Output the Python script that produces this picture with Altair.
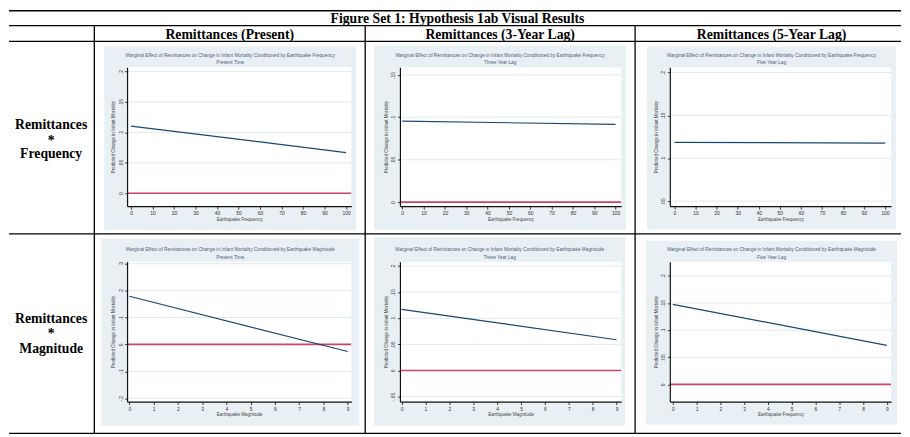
import altair as alt
import pandas as pd

# ------------------------------------------------------------------ data
FIG_TITLE = "Figure Set 1: Hypothesis 1ab Visual Results"
COL_HEADERS = ["Remittances (Present)", "Remittances (3-Year Lag)", "Remittances (5-Year Lag)"]
ROW_LABELS = [["Remittances", "*", "Frequency"], ["Remittances", "*", "Magnitude"]]

TITLE_FREQ = "Marginal Effect of Remittances on Change in Infant Mortality Conditioned by Earthquake Frequency"
TITLE_MAG = "Marginal Effect of Remittances on Change in Infant Mortality Conditioned by Earthquake Magnitude"
PANEL_TITLES = [TITLE_FREQ, TITLE_FREQ, TITLE_FREQ, TITLE_MAG, TITLE_MAG, TITLE_MAG]
PANEL_SUBTITLES = ["Present Time", "Three Year Lag", "Five Year Lag",
                   "Present Time", "Three Year Lag", "Five Year Lag"]
X_TITLES = ["Earthquake Frequency", "Earthquake Frequency", "Earthquake Frequency",
            "Earthquake Magnitude", "Earthquake Magnitude", "Earthquake Frequency"]
Y_TITLE = "Predicted Change in Infant Mortality"

FREQ_X = [0, 100]
MAG_X = [0, 9]
PANEL_X = [FREQ_X, FREQ_X, FREQ_X, MAG_X, MAG_X, MAG_X]
EFFECT = [
    [0.1103, 0.0668],   # present, frequency
    [0.0955, 0.0916],   # 3-yr lag, frequency
    [0.1184, 0.1177],   # 5-yr lag, frequency
    [0.179, -0.026],    # present, magnitude
    [0.117, 0.0589],    # 3-yr lag, magnitude
    [0.1475, 0.072],    # 5-yr lag, magnitude
]

FREQ_TICKS = [0, 10, 20, 30, 40, 50, 60, 70, 80, 90, 100]
MAG_TICKS = [0, 1, 2, 3, 4, 5, 6, 7, 8, 9]
X_TICKS = [FREQ_TICKS, FREQ_TICKS, FREQ_TICKS, MAG_TICKS, MAG_TICKS, MAG_TICKS]
Y_TICKS = [
    [0, 0.05, 0.1, 0.15, 0.2],
    [0, 0.05, 0.1, 0.15],
    [0.05, 0.1, 0.15, 0.2],
    [-0.2, -0.1, 0, 0.1, 0.2, 0.3],
    [-0.05, 0, 0.05, 0.1, 0.15, 0.2],
    [0, 0.05, 0.1, 0.15, 0.2],
]
X_DOMAINS = [
    [-1.85, 102.45], [-1.07, 102.65], [-2.2, 102.8],
    [-0.094, 9.15], [-0.07, 9.195], [-0.125, 9.18],
]
Y_DOMAINS = [
    [-0.0212, 0.207], [-0.0047, 0.159], [0.0442, 0.2061],
    [-0.2122, 0.3074], [-0.0595, 0.2082], [-0.0316, 0.2261],
]

# ------------------------------------------------------------------ layout / style
COL_W = [70, 226, 223, 223]
ROW_H = [140, 141]
# gray graph-region frame relative to each plot area: x0, y0, x1, y1
FRAMES = [
    (-23, -21, 231, 164), (-26, -22, 228, 164), (-23, -21, 228, 163),
    (-26, -23, 234, 165), (-26, -25, 227, 165), (-24, -21, 229, 164),
]
GRAY = "#E9F0F3"
GRID = "#DCE7EB"
NAVY = "#1A476F"
RED = "#CC4466"
SANS = "Liberation Sans"
SERIF = "Liberation Serif"
ONE = pd.DataFrame({"k": [0]})

Y_LABEL_EXPR = "(datum.value < 0 ? '-' : '') + replace(format(abs(datum.value), '~g'), '0.', '.')"


def panel(i):
    w = COL_W[i % 3 + 1]
    h = ROW_H[i // 3]
    gx0, gy0, gx1, gy1 = FRAMES[i]
    xsc = alt.Scale(domain=X_DOMAINS[i], nice=False, zero=False)
    ysc = alt.Scale(domain=Y_DOMAINS[i], nice=False, zero=False)
    common = dict(grid=False, domainColor="#111111", domainWidth=1.2,
                  tickColor="#111111", tickWidth=0.8, labelFont=SANS,
                  labelFontSize=5, labelColor="#333333", labelFlush=False,
                  labelOverlap=False, titleFont=SANS, titleFontSize=4.6,
                  titleFontWeight="normal", titleColor="#444444", zindex=1)
    yax = alt.Axis(values=Y_TICKS[i], labelExpr=Y_LABEL_EXPR, title=Y_TITLE,
                   labelAngle=270, labelAlign="center", labelBaseline="bottom",
                   tickSize=2.5, labelPadding=1.5, titlePadding=2.5, **common)
    xax = alt.Axis(values=X_TICKS[i], format="d", title=X_TITLES[i],
                   tickSize=3, labelPadding=1.5, titlePadding=1, **common)

    gray = alt.Chart(ONE).mark_rect(color=GRAY).encode(
        x=alt.value(gx0), x2=alt.value(gx1), y=alt.value(gy0), y2=alt.value(gy1))
    white = alt.Chart(ONE).mark_rect(color="white").encode(
        x=alt.value(0), x2=alt.value(w), y=alt.value(0), y2=alt.value(h))
    grid = alt.Chart(pd.DataFrame({"y": Y_TICKS[i]})).mark_rule(
        color=GRID, strokeWidth=0.9).encode(
        x=alt.value(0), x2=alt.value(w), y=alt.Y("y:Q", scale=ysc, axis=yax))
    zero = alt.Chart(pd.DataFrame({"y": [0]})).mark_rule(
        color=RED, strokeWidth=1.7, clip=True).encode(
        x=alt.value(0), x2=alt.value(w), y=alt.Y("y:Q", scale=ysc, axis=yax))
    line = alt.Chart(pd.DataFrame({"x": PANEL_X[i], "y": EFFECT[i]})).mark_line(
        color=NAVY, strokeWidth=1.2).encode(
        x=alt.X("x:Q", scale=xsc, axis=xax), y=alt.Y("y:Q", scale=ysc, axis=yax))
    cx = (gx0 + gx1) / 2
    t1 = alt.Chart(ONE).mark_text(text=PANEL_TITLES[i], font=SANS, fontSize=4.8,
                                  color="#4a5f80", align="center", baseline="middle").encode(
        x=alt.value(cx), y=alt.value(-11.5))
    t2 = alt.Chart(ONE).mark_text(text=PANEL_SUBTITLES[i], font=SANS, fontSize=4.8,
                                  color="#4a5f80", align="center", baseline="middle").encode(
        x=alt.value(cx), y=alt.value(-4))
    return alt.layer(gray, white, grid, zero, line, t1, t2).properties(width=w, height=h)


def hline(x0, x1, y, sw=1.3):
    return alt.Chart(ONE).mark_rule(color="black", strokeWidth=sw).encode(
        x=alt.value(x0), x2=alt.value(x1), y=alt.value(y))


def vline(x, y0, y1, sw=1.3):
    return alt.Chart(ONE).mark_rule(color="black", strokeWidth=sw).encode(
        x=alt.value(x), y=alt.value(y0), y2=alt.value(y1))


def label(s, x, y, size=13.8):
    return alt.Chart(ONE).mark_text(text=s, font=SERIF, fontWeight="bold", fontSize=size,
                                    color="black", align="center", baseline="alphabetic").encode(
        x=alt.value(x), y=alt.value(y))


RIGHT = 899
# first label cell: origin at top of row-1 plot areas (57 px below the top rule)
L1_layers = [
    hline(0, RIGHT, -57, 1.5),
    label(FIG_TITLE, 452, -45),
    hline(0, RIGHT, -42),
    label(COL_HEADERS[0], 222.5, -28.5),
    label(COL_HEADERS[1], 495, -28.5),
    label(COL_HEADERS[2], 768.5, -28.5),
    hline(0, RIGHT, -26),
    vline(86, -42, 369),
    vline(359, -42, 369),
    vline(631, -42, 369),
    hline(0, RIGHT, 168),
    hline(0, RIGHT, 369),
    label(ROW_LABELS[0][0], 42.5, 62),
    label(ROW_LABELS[0][1], 42.5, 78),
    label(ROW_LABELS[0][2], 42.5, 91.5),
]
L1 = alt.layer(*L1_layers).properties(width=COL_W[0], height=ROW_H[0])
L2 = alt.layer(
    label(ROW_LABELS[1][0], 42.5, 62),
    label(ROW_LABELS[1][1], 42.5, 76.5),
    label(ROW_LABELS[1][2], 42.5, 92),
).properties(width=COL_W[0], height=ROW_H[1])

cells = [L1, panel(0), panel(1), panel(2), L2, panel(3), panel(4), panel(5)]
chart = alt.concat(*cells, columns=4, spacing={"row": 56, "column": 49},
                   bounds="flush").properties(padding=0, background="white"
).configure_view(stroke=None)

chart.save("out.html", embed_options={"renderer": "svg", "actions": False})
